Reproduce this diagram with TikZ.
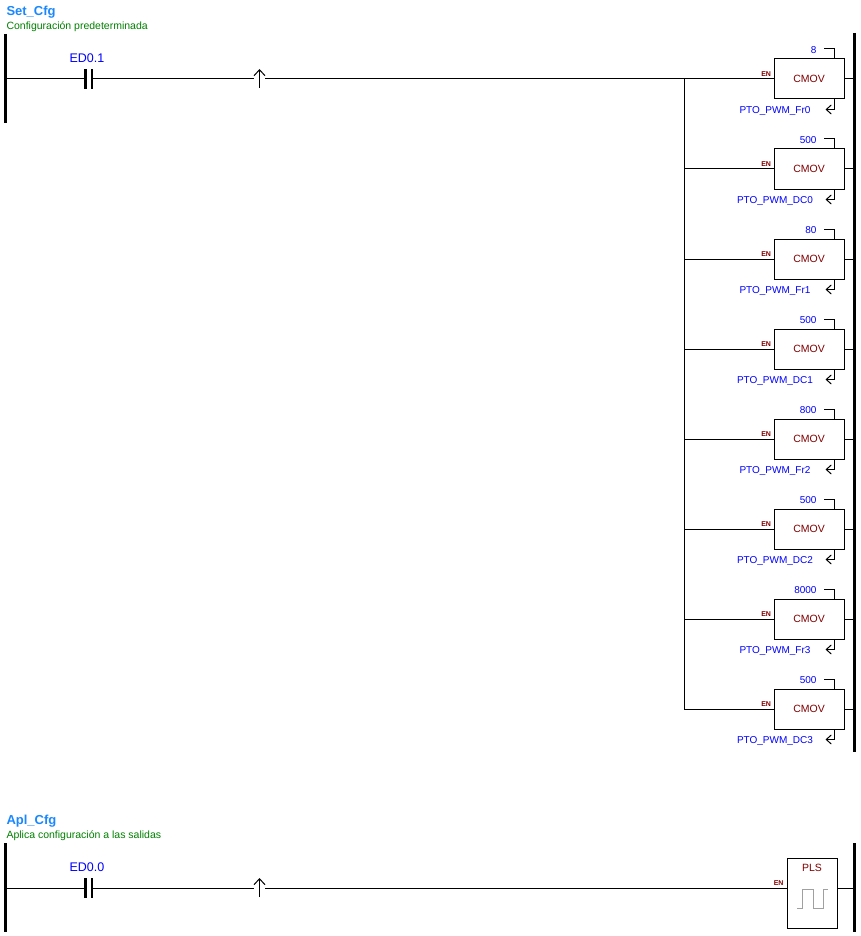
\documentclass[tikz,border=0pt]{standalone}
\usepackage{fontspec}
\setmainfont{Liberation Sans}
\usetikzlibrary{arrows.meta}
\definecolor{netblue}{RGB}{25,135,255}
\definecolor{cmtgreen}{RGB}{0,128,0}
\definecolor{opblue}{RGB}{0,0,255}
\definecolor{boxred}{RGB}{128,0,0}
\definecolor{pulsegray}{RGB}{160,160,160}
\tikzset{
	rail/.style={line width=3pt},
	cmov/.style={draw, line width=1pt, minimum width=70pt, minimum height=40pt, inner sep=0pt, text=boxred, font=\fontsize{10.5}{12}\selectfont},
	pls/.style={draw, line width=1pt, minimum width=50pt, minimum height=70pt, inner sep=0pt},
	en/.style={text=boxred, font=\fontsize{7}{8}\selectfont\bfseries, inner sep=0pt, anchor=east},
	operand/.style={text=opblue, font=\fontsize{10}{12}\selectfont, inner sep=0pt},
	contactlbl/.style={text=opblue, font=\fontsize{12.5}{14}\selectfont, inner sep=0pt},
	nettitle/.style={text=netblue, font=\fontsize{13}{15}\selectfont\bfseries, inner sep=0pt, anchor=west},
	netcmt/.style={text=cmtgreen, font=\fontsize{10.5}{12}\selectfont, inner sep=0pt, anchor=west},
	barb/.style={-{Straight Barb[length=5pt, width=9pt]}},
	edge/.style={-{Straight Barb[length=6pt, width=11pt]}}
}
\begin{document}
\begin{tikzpicture}[x=1pt, y=-1pt, line width=1pt, line join=miter, line cap=butt]
	\useasboundingbox (0,0) rectangle (861,936);
	%%%%%%%%%%%%%%%%%%%%%%%%%%%%%%%%%
	% Set_Cfg
	\node[nettitle] (t1) at (6,12.5) {Set\_Cfg};
	\node[netcmt] (m1) at (6,26.5) {Configuración predeterminada};
	\coordinate (L1) at (5,79);
	\coordinate (C1) at (88.8,79);
	\coordinate (P1) at (259.5,79);
	\coordinate (tap0) at (684,79);
	\coordinate (tap7) at (684,709);
	\draw[rail] (5,34) -- (5,123);
	\draw[rail] (854,33) -- (854,752);
	%%%%%%%%%%%%%%%%%%%%%%%%%%%%%%%%%
	\node[contactlbl] (c1) at (87,58) {ED0.1};
	\fill ([xshift=-4.8pt, yshift=-10pt]C1) rectangle ([xshift=-2.2pt, yshift=10pt]C1);
	\fill ([xshift=2pt, yshift=-10pt]C1) rectangle ([xshift=4.6pt, yshift=10pt]C1);
	\draw (L1) -- ([xshift=-4.8pt]C1);
	\draw ([xshift=4.6pt]C1) -- ([xshift=-5.5pt]P1);
	\draw[edge] ([yshift=-9pt]P1) -- ([yshift=10pt]P1);
	\draw ([xshift=5.5pt]P1) -- (tap0);
	\draw (tap0) -- (tap7);
	%%%%%%%%%%%%%%%%%%%%%%%%%%%%%%%%%
	\foreach \k/\val/\dst in {0/8/PTO\_PWM\_Fr0, 1/500/PTO\_PWM\_DC0, 2/80/PTO\_PWM\_Fr1, 3/500/PTO\_PWM\_DC1, 4/800/PTO\_PWM\_Fr2, 5/500/PTO\_PWM\_DC2, 6/8000/PTO\_PWM\_Fr3, 7/500/PTO\_PWM\_DC3}{
		\coordinate (tap\k) at (684,{79+90*\k});
		\node[cmov] (cmov\k) at (809,{79+90*\k}) {CMOV};
		\node[en] at ([xshift=-2pt, yshift=5pt]cmov\k.west) {EN};
		\node[operand, anchor=east] (in\k) at (817,{50.5+90*\k}) {\val};
		\node[operand] (out\k) at (775,{111+90*\k}) {\dst};
		\draw (tap\k) -- (cmov\k.west);
		\draw (cmov\k.east) -- (854,{79+90*\k});
		\draw ([xshift=7pt, yshift=1.5pt]in\k.east) -| ([xshift=-10pt]cmov\k.north east);
		\draw[barb] ([xshift=-10pt]cmov\k.south east) |- ([xshift=-19pt, yshift=-10pt]cmov\k.south east);
	}
	%%%%%%%%%%%%%%%%%%%%%%%%%%%%%%%%%
	% Apl_Cfg
	\node[nettitle] (t2) at (6,821.5) {Apl\_Cfg};
	\node[netcmt] (m2) at (6,835.5) {Aplica configuración a las salidas};
	\coordinate (L2) at (5,888);
	\coordinate (C2) at (88.8,888);
	\coordinate (P2) at (259.5,888);
	\coordinate (R2) at (854,888);
	\draw[rail] (5,843) -- (5,932);
	\draw[rail] (854,843) -- (854,932);
	%%%%%%%%%%%%%%%%%%%%%%%%%%%%%%%%%
	\node[contactlbl] (c2) at (87,867) {ED0.0};
	\fill ([xshift=-4.8pt, yshift=-10pt]C2) rectangle ([xshift=-2.2pt, yshift=10pt]C2);
	\fill ([xshift=2pt, yshift=-10pt]C2) rectangle ([xshift=4.6pt, yshift=10pt]C2);
	\draw (L2) -- ([xshift=-4.8pt]C2);
	\draw ([xshift=4.6pt]C2) -- ([xshift=-5.5pt]P2);
	\draw[edge] ([yshift=-9pt]P2) -- ([yshift=10pt]P2);
	\node[pls] (pls) at (812,893) {};
	\node[text=boxred, font=\fontsize{10.5}{12}\selectfont, inner sep=0pt] (plslbl) at (812,867.5) {PLS};
	\node[en] at (784,883) {EN};
	\draw ([xshift=5.5pt]P2) -- (pls.west |- P2);
	\draw (pls.east |- R2) -- (R2);
	\draw[pulsegray] (797,908) -- (802,908) -- (802,889) -- (813,889) -- (813,908) -- (823,908) -- (823,889) -- (828,889);
	%%%%%%%%%%%%%%%%%%%%%%%%%%%%%%%%%
\end{tikzpicture}
\end{document}
